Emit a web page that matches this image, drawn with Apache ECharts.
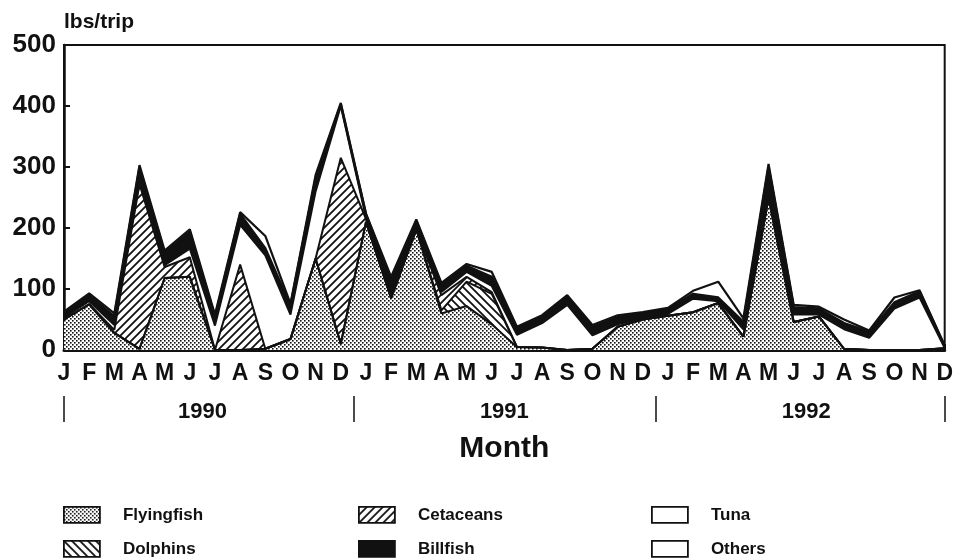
<!DOCTYPE html>
<html>
<head>
<meta charset="utf-8">
<script src="https://cdn.jsdelivr.net/npm/echarts@6/dist/echarts.min.js"></script>
<style>
html,body{margin:0;padding:0;background:#fff;}
#chart{width:956px;height:559px;}
</style>
</head>
<body>
<div id="chart"></div>
<script>
// ---- data ----
const months = ['J','F','M','A','M','J','J','A','S','O','N','D',
                'J','F','M','A','M','J','J','A','S','O','N','D',
                'J','F','M','A','M','J','J','A','S','O','N','D'];
const yearLabels = ['1990','1991','1992'];
const yTicks = [0,100,200,300,400,500];

const flyingfish = [50,75,28,2,118,120,0,0,2,18,150,10, 210,85,198,60,72,42,5,4,0,2,38,50, 56,62,77,22,250,46,55,2,0,0,0,3];
const dolphins   = [0,0,0,0,0,0,0,0,0,0,0,0, 0,0,0,5,40,50,0,0,0,0,0,0, 0,0,0,0,0,0,0,0,0,0,0,0];
const cetaceans  = [0,0,5,270,18,32,0,140,0,0,0,305, 5,0,0,25,8,3,0,0,0,0,0,0, 0,0,0,0,0,0,0,0,0,0,0,0];
const tuna       = [3,5,8,5,3,14,40,65,153,40,110,85, 2,5,0,5,8,10,20,40,74,22,4,2, 3,22,3,12,10,12,3,32,20,68,86,0];
const billfish   = [7,10,14,22,20,28,14,18,12,15,22,3, 5,25,13,12,10,15,11,10,14,14,12,8, 8,8,6,12,40,12,10,10,10,10,10,4];
const others     = [3,3,5,4,4,4,4,3,20,3,5,2, 2,5,3,3,3,8,2,3,2,3,3,2, 2,5,26,6,5,4,3,6,2,8,2,0];

// ---- patterns ----
function makeCanvas(w,h,draw){const c=document.createElement('canvas');c.width=w;c.height=h;const g=c.getContext('2d');g.fillStyle='#fff';g.fillRect(0,0,w,h);draw(g);return c;}
const dotPat = {image: makeCanvas(4,4,g=>{g.fillStyle='#111';g.fillRect(0,0,1.6,1.6);g.fillRect(2,2,1.6,1.6);}), repeat:'repeat'};
const fwdPat = {image: makeCanvas(8,8,g=>{g.strokeStyle='#111';g.lineWidth=1.8;g.beginPath();g.moveTo(-1,9);g.lineTo(9,-1);g.moveTo(-2,2);g.lineTo(2,-2);g.moveTo(6,10);g.lineTo(10,6);g.stroke();}), repeat:'repeat'};
const bwdPat = {image: makeCanvas(8,8,g=>{g.strokeStyle='#111';g.lineWidth=1.8;g.beginPath();g.moveTo(-1,-1);g.lineTo(9,9);g.moveTo(-2,6);g.lineTo(2,10);g.moveTo(6,-2);g.lineTo(10,2);g.stroke();}), repeat:'repeat'};

const FONT = '"Liberation Sans", Arial, Helvetica, sans-serif';
const yearAxisData = Array(71).fill('');
[11,35,59].forEach((idx,k)=>{yearAxisData[idx]=yearLabels[k];});
const yearTickIdx = [0,23,47,70];
const yearLabelIdx = [11,35,59];

function mkSeries(name,data,fill,lw){
  return {name, type:'line', stack:'total', data, showSymbol:false, symbol:'none',
    lineStyle:{color:'#111', width:lw||2}, areaStyle:{color:fill, opacity:1},
    itemStyle:{color:fill, borderColor:'#111'}, emphasis:{disabled:true}, z:2};
}
function legendAt(name,fill,left,top){
  return {left, top, orient:'horizontal', itemWidth:36, itemHeight:16, selectedMode:false, padding:0,
    data:[{name, icon:'rect', itemStyle:{color:fill, borderColor:'#111', borderWidth:1.8}}],
    textStyle:{fontFamily:FONT, fontWeight:'bold', fontSize:17, color:'#111', padding:[0,0,0,18]}};
}

const chart = echarts.init(document.getElementById('chart'), null, {renderer:'canvas'});
chart.setOption({
  animation:false,
  backgroundColor:'#fff',
  grid:{left:64, right:10, top:45, bottom:209, show:true, borderColor:'#111', borderWidth:2, backgroundColor:'transparent'},
  legend:[
    legendAt('Flyingfish', dotPat, 63, 506),
    legendAt('Dolphins', bwdPat, 63, 540),
    legendAt('Cetaceans', fwdPat, 358, 506),
    legendAt('Billfish', '#111', 358, 540),
    legendAt('Tuna', '#fff', 651, 506),
    legendAt('Others', '#fff', 651, 540)
  ],
  xAxis:[
    {type:'category', data:months, boundaryGap:false, position:'bottom',
     axisLine:{show:true, lineStyle:{color:'#111', width:3}},
     axisTick:{show:true, inside:true, length:6, lineStyle:{color:'#111', width:2}, interval:0},
     axisLabel:{interval:0, margin:12, fontFamily:FONT, fontWeight:'bold', fontSize:23, color:'#111'},
     splitLine:{show:false}},
    {type:'category', data:yearAxisData, boundaryGap:false, position:'bottom', offset:46,
     axisLine:{show:false},
     axisTick:{show:true, length:26, lineStyle:{color:'#111', width:1.5}, interval:(i)=>yearTickIdx.includes(i)},
     axisLabel:{interval:(i)=>yearLabelIdx.includes(i), margin:5, fontFamily:FONT, fontWeight:'bold', fontSize:22, color:'#111'},
     name:'Month', nameLocation:'middle', nameGap:38,
     nameTextStyle:{fontFamily:FONT, fontWeight:'bold', fontSize:30, color:'#111'},
     splitLine:{show:false}}
  ],
  yAxis:{type:'value', min:0, max:500, interval:100,
    name:'lbs/trip', nameLocation:'end', nameGap:12,
    nameTextStyle:{fontFamily:FONT, fontWeight:'bold', fontSize:21, color:'#111', align:'left'},
    axisLine:{show:true, lineStyle:{color:'#111', width:2.5}},
    axisTick:{show:true, inside:true, length:6, lineStyle:{color:'#111', width:2}},
    axisLabel:{margin:8, fontFamily:FONT, fontWeight:'bold', fontSize:26, color:'#111',
      formatter:(v)=> yTicks.includes(v) ? String(v) : ''},
    splitLine:{show:false}},
  series:[
    mkSeries('Flyingfish', flyingfish, dotPat),
    mkSeries('Dolphins', dolphins, bwdPat),
    mkSeries('Cetaceans', cetaceans, fwdPat),
    mkSeries('Tuna', tuna, '#fff'),
    mkSeries('Billfish', billfish, '#111', 2.4),
    mkSeries('Others', others, '#fff', 2.2)
  ]
});
</script>
</body>
</html>
